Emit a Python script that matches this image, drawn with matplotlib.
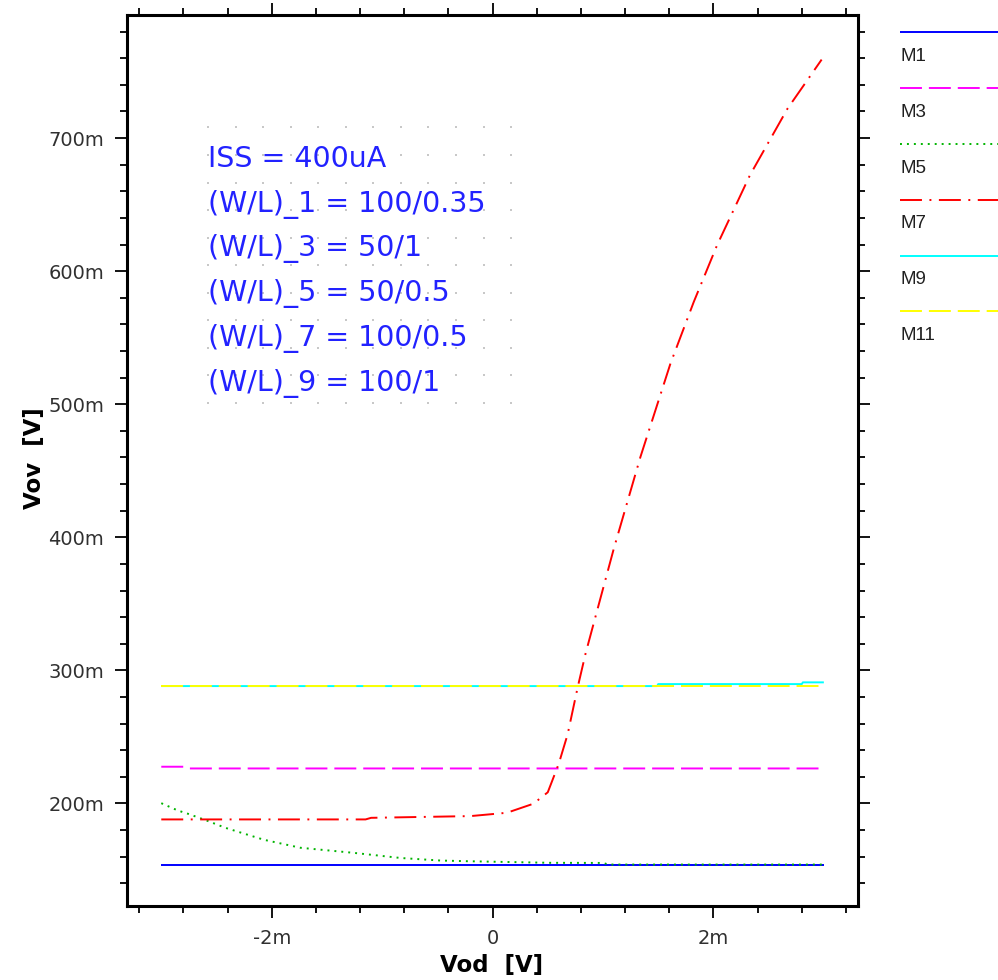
import matplotlib
matplotlib.use('Agg')
import matplotlib.pyplot as plt
import numpy as np
from matplotlib.lines import Line2D
from matplotlib.ticker import MultipleLocator, FuncFormatter

plt.rcParams['lines.scale_dashes'] = False
plt.rcParams['font.family'] = ['DejaVu Sans']

# ---------------- data (x in mV, y in mV) ----------------
m1_x = [-3.0, 0.0, 3.0]
m1_y = [154.0, 154.0, 154.0]

m3_x = [-3.0, -2.8, -2.75, 3.0]
m3_y = [227.6, 227.6, 226.3, 226.3]

m5_x = [-3.0, -2.85, -2.76, -2.59, -2.42, -2.07, -1.74, -1.26, -0.83, -0.47, -0.23, 0.52, 1.0, 1.05, 3.0]
m5_y = [200.2, 194.7, 192.3, 187.2, 181.7, 172.7, 166.7, 162.9, 159.0, 157.1, 156.6, 155.4, 155.3, 154.1, 154.1]

m7_x = [-3.0, -1.15, -1.1, -0.2, 0.13, 0.37, 0.50, 0.54, 0.60, 0.68, 0.77, 0.842, 1.098, 1.339,
        1.611, 1.822, 2.033, 2.33, 2.67, 2.98]
m7_y = [188.0, 188.0, 189.2, 190.5, 193.0, 199.8, 208.4, 217.0, 230.0, 252.0, 287.0, 312.6, 391.5, 460.4,
        530.6, 576.9, 619.5, 672.0, 722.0, 759.0]

m9_x = [-3.0, 1.49, 1.5, 2.8, 2.81, 3.0]
m9_y = [288.2, 288.2, 289.7, 289.7, 291.0, 291.0]

m11_x = [-3.0, 0.0, 3.0]
m11_y = [288.2, 288.2, 288.2]

series_names = ['M1', 'M3', 'M5', 'M7', 'M9', 'M11']
series_x = [m1_x, m3_x, m5_x, m7_x, m9_x, m11_x]
series_y = [m1_y, m3_y, m5_y, m7_y, m9_y, m11_y]
series_colors = ['#0000ff', '#ff00ff', '#00b400', '#ff0000', '#00ffff', '#ffff00']
series_dashes = [None, (15.8, 5.0), (1.4, 3.6), (15.8, 5.4, 1.4, 5.4), None, (15.8, 5.0)]

annotation_lines = ['ISS = 400uA', '(W/L)_1 = 100/0.35', '(W/L)_3 = 50/1',
                    '(W/L)_5 = 50/0.5', '(W/L)_7 = 100/0.5', '(W/L)_9 = 100/1']

x_label = 'Vod  [V]'
y_label = 'Vov  [V]'

# ---------------- figure ----------------
fig = plt.figure(figsize=(9.98, 9.8), dpi=100)
fig.patch.set_facecolor('white')
ax = fig.add_axes([0.1273, 0.076, 0.7325, 0.9087])

for xs, ys, c, d in zip(series_x, series_y, series_colors, series_dashes):
    ln, = ax.plot(xs, ys, color=c, lw=1.4, solid_capstyle='butt', dash_capstyle='butt', zorder=3)
    if d is not None:
        ln.set_dashes(d)

ax.set_xlim(-3.31, 3.31)
ax.set_ylim(123.3, 792.5)

def fmt(v, _):
    if abs(v) < 1e-9:
        return '0'
    return f'{v:g}m'

ax.xaxis.set_major_locator(MultipleLocator(2))
ax.xaxis.set_minor_locator(MultipleLocator(0.4))
ax.yaxis.set_major_locator(MultipleLocator(100))
ax.yaxis.set_minor_locator(MultipleLocator(20))
ax.xaxis.set_major_formatter(FuncFormatter(fmt))
ax.yaxis.set_major_formatter(FuncFormatter(fmt))

ax.tick_params(which='both', direction='out', top=True, right=True, width=1.3,
               color='black', labelcolor='#303030', labelsize=14)
ax.tick_params(which='major', length=8.6, pad=8)
ax.tick_params(which='minor', length=5.0)
for s in ax.spines.values():
    s.set_linewidth(2.2)
    s.set_color('black')

ax.set_xlabel(x_label, fontsize=16.5, fontweight='bold', va='center', color='black')
ax.xaxis.set_label_coords(0.499, -0.067)
ax.set_ylabel(y_label, fontsize=16.5, fontweight='bold', va='center', ha='center', color='black')
ax.yaxis.set_label_coords(-0.126, 0.5025)

# annotation box: dotted grid + text
gx = np.linspace(0.1108, 0.5253, 12)
gy = np.linspace(0.5643, 0.8737, 11)
GX, GY = np.meshgrid(gx, gy)
ax.scatter(GX.ravel(), GY.ravel(), s=2.2, marker='s', color='#c8c8c8', linewidths=0,
           transform=ax.transAxes, zorder=1)
for i, t in enumerate(annotation_lines):
    ax.text(0.1108, 0.8293 - i * 0.0502, t, transform=ax.transAxes, fontsize=20.5,
            color='#2222ff', ha='left', va='baseline', zorder=2)

# legend (outside, to the right, label under each line sample)
for i, (name, c, d) in enumerate(zip(series_names, series_colors, series_dashes)):
    yl = 1 - (32.5 + 55.8 * i) / 980
    ln = Line2D([0.9018, 1.0], [yl, yl], transform=fig.transFigure, color=c, lw=1.4,
                solid_capstyle='butt', dash_capstyle='butt')
    if d is not None:
        ln.set_dashes(d)
    fig.add_artist(ln)
    fig.text(0.9028, 1 - (61.0 + 55.8 * i) / 980, name, fontsize=13.5,
             family=['Liberation Sans', 'DejaVu Sans'], color='#202020', ha='left', va='baseline')

fig.savefig('out.png', dpi=100, facecolor='white')
